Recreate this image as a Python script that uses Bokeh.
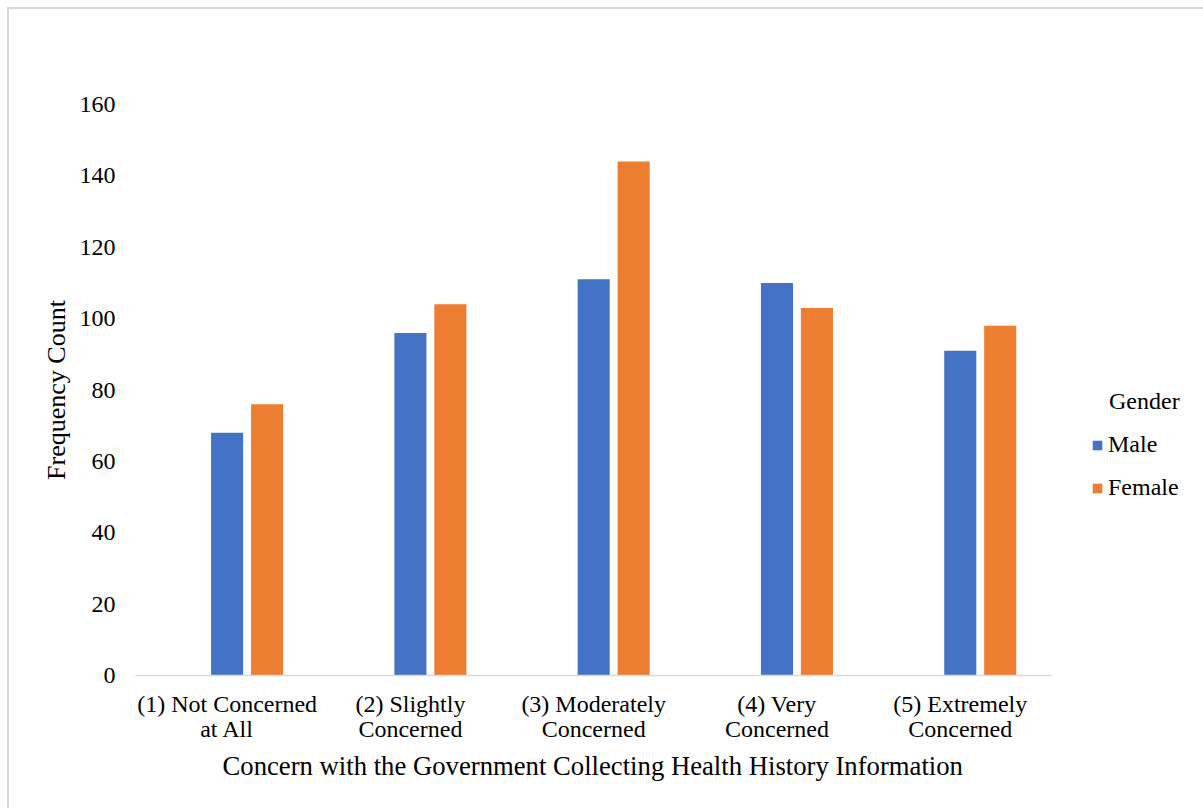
from bokeh.plotting import figure
from bokeh.models import ColumnDataSource, Legend, LegendItem, Range1d, FixedTicker, Title
from bokeh.embed import file_html
from bokeh.resources import INLINE

categories = ["(1) Not Concerned\nat All", "(2) Slightly\nConcerned", "(3) Moderately\nConcerned",
              "(4) Very\nConcerned", "(5) Extremely\nConcerned"]
male = [68, 96, 111, 110, 91]
female = [76, 104, 144, 103, 98]
y_ticks = [0, 20, 40, 60, 80, 100, 120, 140, 160]
x_title = "Concern with the Government Collecting Health History Information"

FONT = "Liberation Serif"
BLUE = "#4472C4"
ORANGE = "#ED7D31"

n = len(categories)
centers = [i + 0.5 for i in range(n)]
src = ColumnDataSource(dict(
    xm=[c for c in centers],
    xf=[c + 0.218 for c in centers],
    male=male, female=female))

p = figure(x_range=Range1d(0, 5.80), y_range=Range1d(0, 160),
           width=1196, height=801, output_backend="svg", toolbar_location=None,
           min_border_left=126, min_border_top=95, min_border_bottom=135, min_border_right=7,
           margin=(7, 0, 0, 7),
           styles={"border-left": "2px solid #d9d9d9", "border-top": "2px solid #d9d9d9"})
p.outline_line_color = None
p.xgrid.grid_line_color = None
p.ygrid.grid_line_color = None

r1 = p.vbar(x="xm", top="male", width=0.175, source=src, fill_color=BLUE, line_color=None)
r2 = p.vbar(x="xf", top="female", width=0.175, source=src, fill_color=ORANGE, line_color=None)

p.yaxis.ticker = y_ticks
p.yaxis.axis_line_color = None
p.yaxis.major_tick_line_color = None
p.yaxis.minor_tick_line_color = None
p.yaxis.major_label_standoff = 14
p.yaxis.axis_label = "Frequency Count"
p.yaxis.axis_label_standoff = 6

p.xaxis.ticker = FixedTicker(ticks=centers, minor_ticks=[])
p.xaxis.major_label_overrides = {c: lab for c, lab in zip(centers, categories)}
p.xaxis.bounds = (0, n)
p.xaxis.axis_line_color = "#d9d9d9"
p.xaxis.axis_line_width = 1.5
p.xaxis.major_tick_line_color = None
p.xaxis.minor_tick_line_color = None
p.xaxis.major_label_standoff = 9
p.xaxis.major_label_text_line_height = 0.97

for ax in (p.xaxis[0], p.yaxis[0]):
    ax.major_label_text_font = FONT
    ax.major_label_text_font_size = "24px"
    ax.major_label_text_color = "#000000"
    ax.axis_label_text_font = FONT
    ax.axis_label_text_font_size = "26px"
    ax.axis_label_text_font_style = "normal"
    ax.axis_label_text_color = "#000000"

xt = Title(text=x_title, align="left", offset=87, standoff=8,
           text_font=FONT, text_font_size="26.7px", text_font_style="normal",
           text_color="#000000")
p.add_layout(xt, "below")

legend = Legend(items=[LegendItem(label="Male", renderers=[r1]),
                       LegendItem(label="Female", renderers=[r2])],
                title="\u00a0\u00a0\u00a0Gender", location=(956, 174))
legend.title_text_font = FONT
legend.title_text_font_size = "24px"
legend.title_text_font_style = "normal"
legend.title_text_color = "#000000"
legend.label_text_font = FONT
legend.label_text_font_size = "24px"
legend.label_text_color = "#000000"
legend.border_line_color = None
legend.background_fill_alpha = 0
legend.glyph_width = 12
legend.glyph_height = 12
legend.label_standoff = 5
legend.spacing = 16
legend.padding = 0
legend.margin = 0
legend.title_standoff = 16
p.add_layout(legend, "center")

open("out.html", "w").write(file_html(p, INLINE))
